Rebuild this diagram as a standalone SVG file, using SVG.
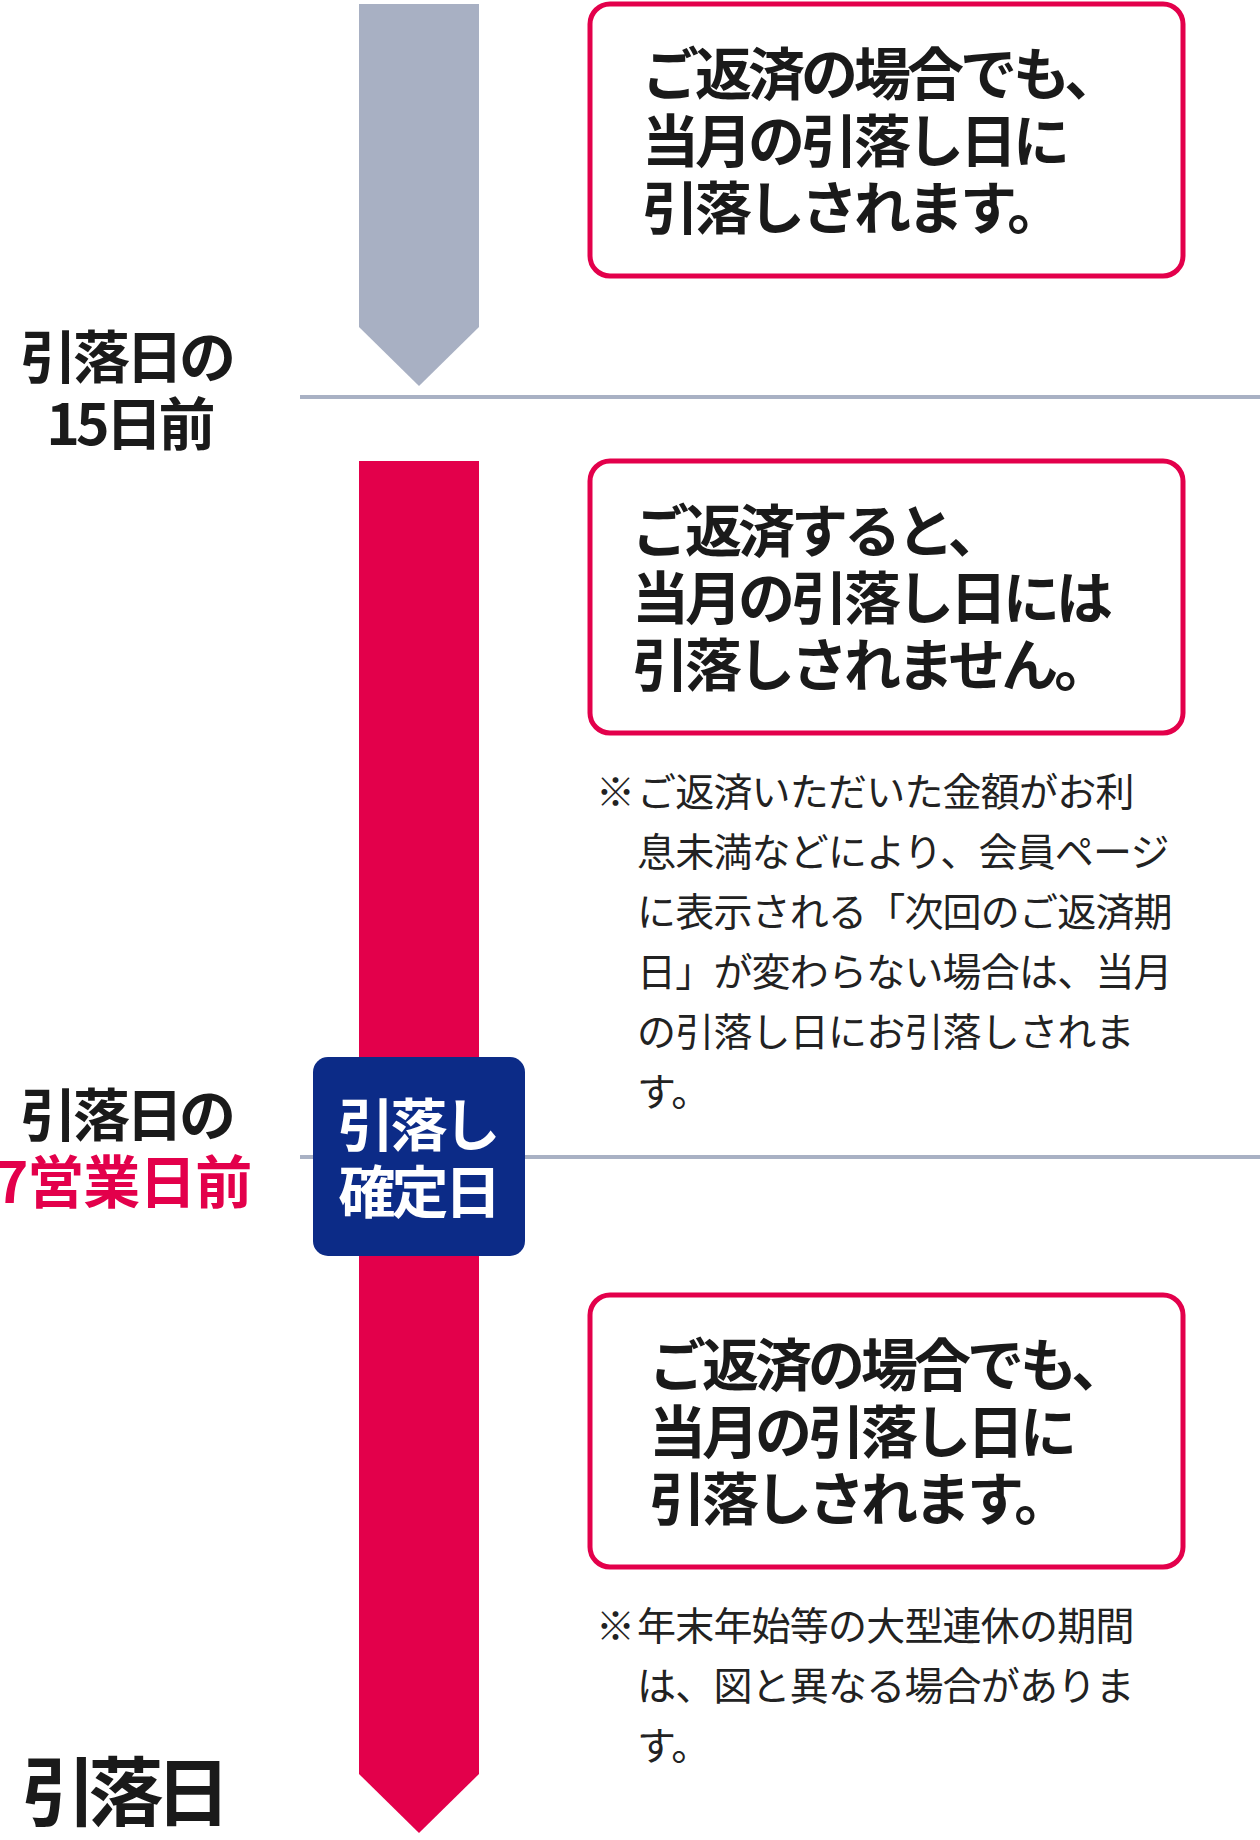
<svg xmlns="http://www.w3.org/2000/svg" width="1260" height="1840" viewBox="0 0 1260 1840">
<style>
.b{font-family:"Noto Sans CJK JP","Noto Sans",sans-serif;font-weight:700;font-size:57px;letter-spacing:-4px;fill:#1a1a1a}
.lbl{text-anchor:middle}
.red{fill:#e3004b;letter-spacing:-1px}
.wh{fill:#ffffff;text-anchor:middle}
.big{font-size:75px;letter-spacing:-8px}
.n{font-family:"Noto Sans CJK JP","Noto Sans",sans-serif;font-weight:400;font-size:39px;letter-spacing:-0.8px;fill:#222222}
.box{fill:#ffffff;stroke:#e3004b;stroke-width:5}
.sep{stroke:#a9b1c4;stroke-width:4}
</style>
<rect width="1260" height="1840" fill="#ffffff"/>
<g id="connectors">
<polygon id="grey-arrow" points="359,4 479,4 479,327 419,386 359,327" fill="#a8b0c3"/>
<line class="sep" x1="300" y1="397" x2="1260" y2="397"/>
<polygon id="red-arrow" points="359,461 479,461 479,1774 419,1833 359,1774" fill="#e3004b"/>
<line class="sep" x1="300" y1="1157" x2="1260" y2="1157"/>
</g>
<g id="label-15days">
<text class="b lbl"><tspan x="126" y="378">引落日の</tspan><tspan x="129" y="445">15日前</tspan></text>
</g>
<g id="label-7days">
<text class="b lbl"><tspan x="126" y="1136">引落日の</tspan><tspan class="red" x="123" y="1203">7営業日前</tspan></text>
</g>
<g id="label-withdrawal-day">
<text class="b lbl big" x="122" y="1820">引落日</text>
</g>
<g id="badge">
<rect x="313" y="1057" width="212" height="199" rx="15" fill="#0c2b87"/>
<text class="b wh"><tspan x="417" y="1146">引落し</tspan><tspan x="418" y="1213">確定日</tspan></text>
</g>
<g id="box1">
<rect class="box" x="590" y="4" width="593" height="272" rx="20"/>
<text class="b"><tspan x="642" y="95">ご返済の場合でも、</tspan><tspan x="642" y="162">当月の引落し日に</tspan><tspan x="642" y="229">引落しされます。</tspan></text>
</g>
<g id="box2">
<rect class="box" x="590" y="461" width="593" height="272" rx="20"/>
<text class="b"><tspan x="632" y="552">ご返済すると、</tspan><tspan x="632" y="619">当月の引落し日には</tspan><tspan x="632" y="686">引落しされません。</tspan></text>
</g>
<g id="note1">
<text class="n"><tspan x="596" y="806">※</tspan><tspan x="637" y="806">ご返済いただいた金額がお利</tspan><tspan x="637" y="866">息未満などにより、会員ページ</tspan><tspan x="637" y="926">に表示される「次回のご返済期</tspan><tspan x="637" y="986">日」が変わらない場合は、当月</tspan><tspan x="637" y="1046">の引落し日にお引落しされま</tspan><tspan x="637" y="1106">す。</tspan></text>
</g>
<g id="box3">
<rect class="box" x="590" y="1295" width="593" height="272" rx="20"/>
<text class="b"><tspan x="649" y="1386">ご返済の場合でも、</tspan><tspan x="649" y="1453">当月の引落し日に</tspan><tspan x="649" y="1520">引落しされます。</tspan></text>
</g>
<g id="note2">
<text class="n"><tspan x="596" y="1640">※</tspan><tspan x="637" y="1640">年末年始等の大型連休の期間</tspan><tspan x="637" y="1700">は、図と異なる場合がありま</tspan><tspan x="637" y="1760">す。</tspan></text>
</g>
</svg>
